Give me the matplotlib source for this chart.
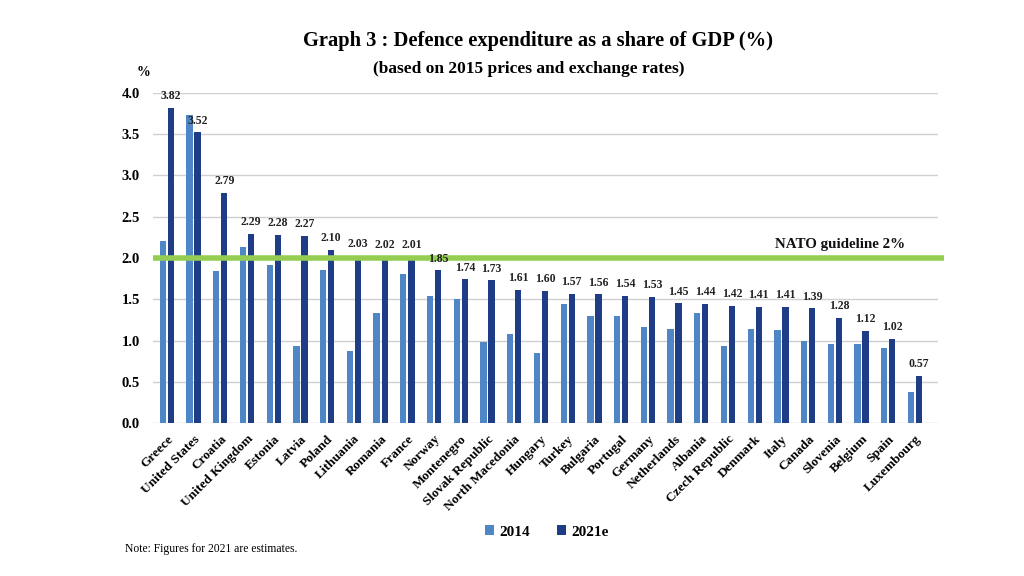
import numpy as np
import matplotlib
matplotlib.use("Agg")
import matplotlib.pyplot as plt

# Defence expenditure as share of GDP, 2014 vs 2021e
paises = ["Greece", "United States", "Croatia", "United Kingdom", "Estonia", "Latvia",
          "Poland", "Lithuania", "Romania", "France", "Norway", "Montenegro",
          "Slovak Republic", "North Macedonia", "Hungary", "Turkey", "Bulgaria",
          "Portugal", "Germany", "Netherlands", "Albania", "Czech Republic", "Denmark",
          "Italy", "Canada", "Slovenia", "Belgium", "Spain", "Luxembourg"]
gasto_2014 = [2.21, 3.73, 1.84, 2.13, 1.91, 0.93, 1.85, 0.87, 1.33, 1.81, 1.54, 1.50,
              0.98, 1.08, 0.85, 1.44, 1.30, 1.30, 1.17, 1.14, 1.33, 0.94, 1.14,
              1.13, 1.00, 0.96, 0.96, 0.91, 0.38]
gasto_2021 = [3.82, 3.52, 2.79, 2.29, 2.28, 2.27, 2.10, 2.03, 2.02, 2.01, 1.85, 1.74,
              1.73, 1.61, 1.60, 1.57, 1.56, 1.54, 1.53, 1.45, 1.44, 1.42, 1.41,
              1.41, 1.39, 1.28, 1.12, 1.02, 0.57]
guia_otan = 2.0

plt.rcParams['font.family'] = ['Liberation Serif', 'DejaVu Serif']

fig = plt.figure(figsize=(10.24, 5.76), dpi=100)
ax = fig.add_axes([153/1024, 1 - 423.3/576, (938-153)/1024, (423.3-92.7)/576])

x = np.arange(len(paises))
ancho = 0.235
ax.bar(x - 0.15, gasto_2014, ancho, color="#4f86c6", label="2014", zorder=3)
ax.bar(x + 0.15, gasto_2021, ancho, color="#1f3d87", label="2021e", zorder=3)

for xi, v in zip(x, gasto_2021):
    ax.text(xi + 0.15, v + 0.07, f"{v:.2f}", ha="center", va="bottom",
            fontsize=8.5, fontweight="bold", color="#222222", zorder=5)

# linea guia OTAN
ax.plot([-0.52, 29.1], [guia_otan, guia_otan], color="#94cd52", linewidth=4,
        zorder=4, clip_on=False, solid_capstyle="butt")
ax.text(27.62, guia_otan + 0.08, "NATO guideline 2%", ha="right", va="bottom",
        fontsize=10.8, fontweight="bold", color="#111111")

ax.set_xlim(-0.52, 28.86)
ax.set_ylim(0, 4.0)
ax.set_yticks(np.arange(0, 4.01, 0.5))
ax.set_yticklabels([f"{t:.1f}" for t in np.arange(0, 4.01, 0.5)],
                   fontsize=10.5, fontweight="bold")
ax.grid(axis="y", color="#d0d0d0", linewidth=1, zorder=0)
ax.set_axisbelow(True)
for s in ax.spines.values():
    s.set_visible(False)
ax.tick_params(axis="both", length=0)
ax.tick_params(axis="y", pad=9.5)
ax.tick_params(axis="x", pad=7)

ax.set_xticks(x)
ax.set_xticklabels(paises, rotation=45, ha="right", rotation_mode="anchor",
                   fontsize=9.6, fontweight="bold")

fig.text(0.525, 0.928, "Graph 3 : Defence expenditure as a share of GDP (%)",
         ha="center", va="center", fontsize=14.8, fontweight="bold")
fig.text(0.516, 0.880, "(based on 2015 prices and exchange rates)",
         ha="center", va="center", fontsize=12.5, fontweight="bold")
fig.text(143/1024, 1 - 73/576, "%", ha="center", va="center",
         fontsize=10, fontweight="bold")

fig.legend(loc="center", bbox_to_anchor=(0.534, 1 - 532/576), ncol=2, frameon=False,
           prop={"weight": "bold", "size": 11}, handlelength=0.6,
           handleheight=0.6, columnspacing=1.8, handletextpad=0.3)
fig.text(125/1024, 1 - 549/576, "Note: Figures for 2021 are estimates.",
         ha="left", va="center", fontsize=8.4)

fig.savefig("out.png", dpi=100, facecolor="white")
